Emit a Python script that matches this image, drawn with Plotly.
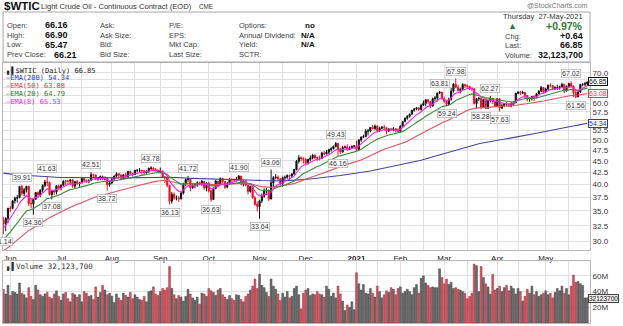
import math
import pandas as pd
import plotly.graph_objects as go

W, H = 623, 326

# ---------------- data ----------------
HOLIDAYS = ["2020-07-03", "2020-09-07", "2020-11-26", "2020-12-25",
            "2021-01-01", "2021-01-18", "2021-02-15", "2021-04-02"]
DATES = pd.bdate_range("2020-05-27", "2021-05-27", freq="C", holidays=HOLIDAYS)

FIRST_OPEN = 33.30
LAST_OPEN = 66.16

CLOSE = [
    32.81, 33.71, 35.49,
    35.44, 36.81, 37.29, 37.41, 39.55, 38.19, 38.94, 39.60, 36.34, 36.26, 37.12, 38.38, 37.96, 38.84, 39.75, 40.46, 40.37, 38.01, 38.72, 38.49, 39.70, 39.27,
    39.82, 40.65, 40.63, 40.62, 40.90, 39.62, 40.55, 40.10, 40.29, 41.20, 40.75, 40.59, 40.81, 41.96, 41.90, 41.07, 41.29, 41.60, 41.04, 41.27, 39.92, 40.27,
    41.01, 41.70, 42.19, 41.95, 41.22, 41.94, 41.61, 42.67, 42.24, 42.01, 42.89, 42.89, 42.93, 42.82, 42.34, 42.62, 43.35, 43.39, 43.04, 42.97, 42.61,
    42.76, 41.51, 41.37, 39.77, 36.76, 38.05, 37.30, 37.33, 37.26, 38.28, 40.16, 40.97, 41.11, 39.31, 39.80, 39.93, 40.31, 40.25, 40.60, 39.29, 40.22,
    38.72, 37.05, 39.22, 40.67, 39.95, 41.19, 40.60, 39.43, 40.20, 41.04, 40.96, 40.88, 41.06, 41.70, 40.03, 40.64, 39.85, 38.56, 39.57, 37.39, 36.17, 35.79,
    36.81, 37.66, 38.79, 38.79, 37.14, 40.29, 41.36, 41.45, 41.12, 40.13, 41.34, 41.43, 41.82, 41.74, 42.15, 43.06, 44.91, 45.71, 45.53, 45.34,
    44.55, 45.28, 45.64, 46.26, 45.76, 45.60, 45.52, 46.78, 46.57, 46.99, 47.62, 47.82, 48.36, 49.10, 47.74, 47.02, 48.12, 48.23, 47.62, 48.00, 48.40, 48.52,
    47.62, 49.93, 50.63, 50.83, 52.24, 52.25, 53.21, 52.91, 53.57, 52.36, 52.98, 53.24, 53.13, 52.27, 52.77, 52.61, 52.85, 52.34, 52.20,
    53.55, 54.76, 55.69, 56.23, 56.85, 57.97, 58.36, 58.68, 58.24, 59.47, 60.05, 61.14, 60.52, 59.24, 61.49, 61.67, 63.22, 63.53, 61.50,
    60.64, 59.75, 61.28, 63.83, 66.09, 65.05, 64.01, 64.44, 66.02, 65.61, 65.39, 64.80, 64.60, 60.00, 61.42, 61.55, 58.76, 61.18, 58.56, 60.97, 61.56, 60.55, 59.16,
    61.45, 58.65, 59.33, 59.77, 59.60, 59.32, 59.70, 60.18, 63.15, 63.46, 63.13, 63.38, 62.44, 61.35, 61.43, 62.14, 61.91, 62.94, 63.86, 65.01, 63.58,
    64.49, 65.69, 65.63, 64.71, 64.90, 64.92, 65.28, 66.08, 63.82, 65.37, 66.27, 65.49, 63.36, 62.05, 63.58, 66.05, 66.07, 66.21, 66.85,
]
HIGH = [
    34.0, 33.9, 35.5,
    35.9, 36.9, 37.6, 37.9, 39.6, 39.91, 39.3, 39.6, 39.7, 37.3, 37.2, 38.5, 38.6, 39.0, 40.0, 40.9, 41.63, 40.6, 38.9, 39.0, 39.8, 39.9,
    40.0, 40.8, 40.9, 40.9, 41.1, 41.0, 40.6, 40.9, 40.5, 41.4, 41.3, 41.0, 41.0, 42.51, 42.2, 42.0, 41.5, 41.8, 41.8, 41.6, 41.3, 40.5,
    41.3, 41.8, 42.5, 42.3, 42.0, 42.1, 42.4, 42.8, 42.8, 42.3, 43.0, 43.2, 43.4, 43.0, 42.9, 42.9, 43.5, 43.78, 43.6, 43.4, 43.1,
    43.5, 42.8, 41.7, 41.6, 39.9, 38.5, 38.4, 37.8, 37.7, 38.6, 40.3, 41.2, 41.72, 41.0, 40.1, 40.2, 40.6, 40.5, 40.9, 40.6, 40.4,
    40.5, 38.9, 39.4, 40.9, 40.5, 41.4, 41.3, 40.6, 40.4, 41.3, 41.2, 41.2, 41.5, 41.90, 41.7, 40.8, 40.8, 39.8, 39.7, 39.4, 37.7, 36.7,
    37.0, 38.2, 39.2, 39.3, 39.0, 43.06, 41.7, 42.1, 41.8, 41.3, 41.6, 41.8, 42.0, 42.0, 42.3, 43.2, 45.2, 46.3, 46.0, 45.8,
    45.6, 45.5, 46.2, 46.6, 46.5, 46.0, 46.2, 47.1, 47.3, 47.5, 47.8, 48.2, 48.6, 49.43, 49.2, 47.9, 48.5, 48.6, 48.9, 48.4, 48.6, 48.6,
    49.8, 50.2, 50.9, 51.3, 52.8, 52.8, 53.3, 53.9, 54.0, 53.8, 53.4, 53.6, 53.9, 53.0, 53.0, 53.1, 53.3, 53.0, 53.0,
    53.8, 54.9, 55.9, 56.6, 57.0, 58.1, 58.6, 58.9, 58.9, 59.8, 60.9, 61.3, 61.2, 60.8, 61.8, 62.3, 63.3, 63.81, 63.6,
    62.1, 60.8, 61.8, 64.9, 66.4, 67.98, 65.9, 64.9, 66.4, 66.0, 66.0, 65.5, 65.0, 64.7, 61.5, 62.0, 61.7, 61.3, 61.6, 61.1, 62.27, 61.7, 61.0,
    61.6, 61.6, 59.9, 60.1, 60.4, 60.1, 60.5, 60.7, 63.3, 63.8, 63.9, 64.0, 63.6, 62.6, 61.8, 62.3, 62.5, 63.2, 64.1, 65.5, 64.8,
    64.9, 66.0, 66.4, 65.8, 65.4, 65.9, 65.6, 66.6, 66.1, 65.6, 66.5, 67.02, 65.6, 64.2, 64.0, 66.2, 66.4, 66.9, 66.90,
]
LOW = [
    31.14, 31.6, 32.9,
    34.8, 35.3, 36.3, 36.5, 37.3, 37.8, 37.7, 38.4, 35.9, 35.5, 34.36, 37.0, 37.3, 37.5, 38.4, 39.4, 39.6, 37.8, 37.08, 37.9, 38.0, 38.8,
    38.8, 39.7, 39.9, 40.0, 39.9, 39.3, 39.2, 39.9, 39.5, 40.2, 40.5, 40.3, 40.2, 40.6, 41.3, 40.9, 40.7, 40.8, 40.8, 40.8, 38.72, 39.5,
    40.0, 40.7, 41.4, 41.5, 40.8, 41.0, 41.4, 41.5, 41.8, 41.6, 41.9, 42.5, 42.5, 42.0, 42.0, 42.2, 42.4, 42.9, 42.8, 42.6, 42.5,
    42.4, 41.4, 40.2, 39.4, 36.13, 36.3, 37.0, 36.9, 36.6, 37.0, 38.0, 39.6, 40.5, 38.6, 39.1, 39.2, 39.5, 39.8, 39.7, 38.9, 38.6,
    38.4, 36.63, 37.0, 39.0, 39.4, 39.8, 40.3, 39.1, 39.2, 39.9, 40.0, 40.4, 40.6, 40.8, 39.9, 39.6, 39.6, 38.0, 38.4, 37.2, 35.9, 34.9,
    33.64, 36.4, 37.4, 37.9, 36.8, 37.5, 39.4, 41.0, 40.8, 39.8, 39.5, 40.8, 41.1, 40.8, 41.3, 41.9, 42.9, 44.4, 44.9, 44.4,
    43.9, 44.1, 44.9, 45.3, 45.4, 45.0, 45.1, 45.4, 46.3, 46.5, 46.6, 47.1, 47.6, 48.1, 46.16, 46.6, 46.9, 47.9, 47.3, 47.5, 47.8, 47.9,
    47.2, 47.5, 49.5, 50.4, 50.6, 51.1, 51.9, 52.6, 52.5, 51.9, 52.0, 52.7, 52.6, 51.4, 52.0, 52.4, 52.2, 51.9, 51.9,
    52.0, 53.4, 54.6, 55.3, 55.9, 56.8, 57.6, 58.0, 57.8, 57.9, 59.3, 59.1, 59.9, 58.6, 59.1, 60.6, 60.6, 62.9, 61.2,
    60.2, 59.24, 59.5, 60.8, 63.4, 64.9, 63.8, 63.1, 64.3, 64.8, 64.6, 64.2, 63.9, 59.7, 58.5, 60.7, 58.28, 58.9, 58.3, 58.5, 60.3, 59.9, 58.9,
    59.0, 57.63, 58.3, 58.9, 59.1, 58.9, 58.8, 59.4, 60.2, 62.9, 62.6, 62.9, 61.6, 60.6, 60.5, 60.9, 60.8, 61.6, 62.9, 63.6, 63.2,
    63.2, 64.3, 65.1, 64.2, 64.2, 64.3, 64.3, 64.8, 63.3, 63.9, 64.8, 65.3, 61.9, 61.56, 61.9, 63.2, 65.4, 65.4, 65.47,
]
VOLUME_M = [
    43, 37, 48,
    35, 40, 39, 37, 51, 38, 36, 32, 45, 34, 30, 48, 42, 36, 34, 37, 39, 33, 31, 37, 41, 34,
    29, 37, 39, 31, 27, 38, 36, 33, 36, 27, 40, 38, 34, 35, 30, 46, 33, 39, 48, 42, 36, 38,
    34, 26, 37, 32, 29, 38, 35, 33, 39, 31, 36, 33, 30, 29, 34, 27, 40, 41, 46, 37, 35,
    40, 44, 42, 45, 72, 44, 36, 31, 35, 33, 28, 34, 43, 37, 32, 29, 33, 24, 38, 37, 34,
    44, 41, 39, 35, 42, 44, 36, 33, 30, 35, 31, 29, 36, 35, 30, 27, 34, 37, 42, 47, 56, 44,
    62, 48, 45, 39, 34, 56, 47, 43, 37, 29, 38, 33, 40, 32, 34, 44, 47, 36, 18, 38,
    42, 44, 35, 37, 36, 40, 37, 36, 33, 47, 43, 34, 38, 32, 47, 37, 28, 16, 23, 20, 27, 17,
    64, 50, 42, 49, 38, 37, 44, 38, 33, 47, 40, 32, 36, 41, 39, 45, 43, 36, 44,
    46, 38, 40, 43, 40, 36, 45, 49, 38, 57, 60, 51, 48, 45, 46, 45, 45, 69, 58,
    50, 56, 49, 52, 44, 45, 43, 42, 40, 38, 31, 34, 38, 75, 73, 40, 72, 58, 50, 46, 37, 62, 42,
    44, 47, 40, 45, 48, 41, 47, 44, 37, 44, 40, 28, 34, 43, 38, 47, 36, 40, 34, 36, 38,
    41, 36, 38, 32, 39, 44, 41, 47, 38, 44, 36, 47, 61, 52, 53, 50, 48, 32, 32.1237,
]

EMA_SPANS = [200, 50, 20, 8]
EMA_SEEDS = [42.4, 28.5, 30.0, 32.0]          # values at the left edge
EMA_COLORS = ["#45459c", "#e4505e", "#3a8a3a", "#ff22ee"]
EMA_TEXT_COLORS = ["#2a3cb8", "#e03a50", "#2f7d2f", "#ff22ee"]
EMA_LEGEND = ["EMA(200) 54.34", "EMA(50) 63.08", "EMA(20) 64.79", "EMA(8) 65.53"]

PEAKS = [  # date, value, H/L
    ("2020-05-27", 31.14, "L"), ("2020-06-08", 39.91, "H"), ("2020-06-15", 34.36, "L"),
    ("2020-06-23", 41.63, "H"), ("2020-06-25", 37.08, "L"), ("2020-07-21", 42.51, "H"),
    ("2020-07-30", 38.72, "L"), ("2020-08-26", 43.78, "H"), ("2020-09-08", 36.13, "L"),
    ("2020-09-18", 41.72, "H"), ("2020-10-02", 36.63, "L"), ("2020-10-20", 41.90, "H"),
    ("2020-11-02", 33.64, "L"), ("2020-11-09", 43.06, "H"), ("2020-12-18", 49.43, "H"),
    ("2020-12-21", 46.16, "L"), ("2021-02-25", 63.81, "H"), ("2021-03-02", 59.24, "L"),
    ("2021-03-08", 67.98, "H"), ("2021-03-23", 58.28, "L"), ("2021-03-29", 62.27, "H"),
    ("2021-04-05", 57.63, "L"), ("2021-05-18", 67.02, "H"), ("2021-05-20", 61.56, "L"),
]

MONTH_LABELS = ["Jun", "Jul", "Aug", "Sep", "Oct", "Nov", "Dec", "<b>2021</b>", "Feb", "Mar", "Apr", "May"]
PRICE_TICKS = [30.0, 32.5, 35.0, 37.5, 40.0, 42.5, 45.0, 47.5, 50.0, 52.5, 55.0, 57.5, 60.0, 62.5, 65.0, 67.5, 70.0]
PRICE_TICKS_UNDER_TAGS = [55.0, 62.5, 65.0, 67.5]
VOL_TICKS = [20, 40, 60]

# ---------------- derived ----------------
n = len(DATES)
assert len(CLOSE) == n and len(HIGH) == n and len(LOW) == n and len(VOLUME_M) == n
idx = list(range(n))
OPEN = [FIRST_OPEN] + CLOSE[:-1]
OPEN[-1] = LAST_OPEN
HI = [max(h, o, c) for h, o, c in zip(HIGH, OPEN, CLOSE)]
LO = [min(l, o, c) for l, o, c in zip(LOW, OPEN, CLOSE)]
prev = [OPEN[0]] + CLOSE[:-1]
up = [CLOSE[i] >= prev[i] for i in idx]

month_idx = [i for i in range(1, n) if DATES[i].month != DATES[i - 1].month]
mid_idx = [i for i in range(1, n) if DATES[i].day >= 15 and DATES[i - 1].day < 15]
grid_vals = sorted(month_idx + mid_idx)
label_of = dict(zip(month_idx, MONTH_LABELS))
grid_text = [label_of.get(i, "") for i in grid_vals]

def ema(values, span, seed):
    k = 2.0 / (span + 1)
    out, e = [], seed
    for v in values:
        e = e + k * (v - e)
        out.append(e)
    return out

date_pos = {d.strftime("%Y-%m-%d"): i for i, d in enumerate(DATES)}

# ---------------- figure ----------------
def px(x):
    return x / W

def py(y):
    return 1 - y / H

fig = go.Figure()

for flag, col in [(True, "#111111"), (False, "#ee1122")]:
    sel = [i for i in idx if up[i] == flag]
    fig.add_trace(go.Candlestick(
        x=sel, open=[OPEN[i] for i in sel], high=[HI[i] for i in sel],
        low=[LO[i] for i in sel], close=[CLOSE[i] for i in sel],
        increasing=dict(line=dict(color=col, width=1), fillcolor=col),
        decreasing=dict(line=dict(color=col, width=1), fillcolor=col),
        whiskerwidth=0, xaxis="x", yaxis="y", showlegend=False, hoverinfo="skip"))

for span, seed, c in zip(EMA_SPANS, EMA_SEEDS, EMA_COLORS):
    fig.add_trace(go.Scatter(x=idx, y=ema(CLOSE, span, seed), mode="lines",
                             line=dict(color=c, width=1.1), xaxis="x", yaxis="y",
                             showlegend=False, hoverinfo="skip"))

vcol = ["#6c6c6c" if u else "#d65461" for u in up]
vline = ["#3c3c3c" if u else "#9c2f3a" for u in up]
fig.add_trace(go.Bar(x=idx, y=VOLUME_M, marker=dict(color=vcol, line=dict(color=vline, width=0.5)),
                     width=0.8, xaxis="x2", yaxis="y2", showlegend=False, hoverinfo="skip"))

XL, XR = 3, 590
PT, PB = 63, 250
VT, VB = 261, 323
x_range = [-0.16, n - 1 + 1.17]
y_lo, y_hi = 28.77, 73.5

grid = "#e0e0e0"
border = "#b8b8b8"
fig.update_layout(
    width=W, height=H, margin=dict(l=0, r=0, t=0, b=0),
    paper_bgcolor="white", plot_bgcolor="white",
    xaxis=dict(domain=[px(XL), px(XR)], range=x_range, anchor="y",
               tickmode="array", tickvals=grid_vals, ticktext=grid_text,
               tickfont=dict(family="Liberation Sans", size=8, color="#222"),
               showgrid=True, gridcolor=grid, gridwidth=1, ticks="", ticklen=0,
               showline=True, linecolor=border, mirror=True, zeroline=False,
               rangeslider=dict(visible=False)),
    yaxis=dict(domain=[py(PB), py(PT)], type="log", range=[math.log10(y_lo), math.log10(y_hi)],
               side="right", tickmode="array", tickvals=PRICE_TICKS,
               ticktext=["" if v in PRICE_TICKS_UNDER_TAGS else f"{v:.1f}" for v in PRICE_TICKS],
               tickfont=dict(family="Liberation Sans", size=8, color="#333"),
               showgrid=True, gridcolor=grid, showline=True, linecolor=border, mirror=True,
               zeroline=False, ticks=""),
    xaxis2=dict(domain=[px(XL), px(XR)], range=x_range, anchor="y2", matches="x",
                tickmode="array", tickvals=grid_vals, showticklabels=False,
                showgrid=True, gridcolor=grid, showline=True, linecolor=border, mirror=True,
                zeroline=False, ticks=""),
    yaxis2=dict(domain=[py(VB), py(VT)], range=[0, 79], side="right",
                tickmode="array", tickvals=VOL_TICKS, ticktext=[f"{v}M" for v in VOL_TICKS],
                tickfont=dict(family="Liberation Sans", size=8, color="#333"),
                showgrid=True, gridcolor=grid, showline=True, linecolor=border, mirror=True,
                zeroline=False, ticks=""),
)

ann = []
def txt(x, y, s, size=7.5, color="#444", xanchor="left", family="Liberation Sans", **kw):
    ann.append(dict(x=px(x), y=py(y), xref="paper", yref="paper", text=s, showarrow=False,
                    xanchor=xanchor, yanchor="middle",
                    font=dict(family=family, size=size, color=color), **kw))

# title row
txt(2, 6, "<b>$WTIC</b>", size=11.5, color="#111")
txt(39, 6.5, "Light Crude Oil - Continuous Contract (EOD)", size=7.6, color="#333")
txt(197, 6.5, "CME", size=6.3, color="#333")
txt(590, 5, "@StockCharts.com", size=7, color="#777", xanchor="right")

fig.add_shape(type="rect", xref="paper", yref="paper", x0=px(3), x1=px(590), y0=py(62), y1=py(12),
              line=dict(color="#a8a8a8", width=1))

rows = [25.5, 35, 44.5, 54.5]
labels1 = ["Open:", "High:", "Low:", "Prev Close:"]
values1 = ["66.16", "66.90", "65.47", "66.21"]
vx1 = [43, 43, 43, 52]
for y, l, v, vx in zip(rows, labels1, values1, vx1):
    txt(5, y, l, size=7.5, color="#444")
    txt(vx, y, f"<b>{v}</b>", size=9, color="#111")
for y, l in zip(rows, ["Ask:", "Ask Size:", "Bid:", "Bid Size:"]):
    txt(98, y, l, size=7.5, color="#444")
for y, l in zip(rows, ["P/E:", "EPS:", "Mkt Cap:", "Last Size:"]):
    txt(167, y, l, size=7.5, color="#444")
for y, l, v in zip(rows, ["Options:", "Annual Dividend:", "Yield:", "SCTR:"], ["no", "N/A", "N/A", ""]):
    txt(237, y, l, size=7.5, color="#444")
    if v:
        txt(317, y, f"<b>{v}</b>", size=8, color="#111", xanchor="right")

txt(585, 16, "Thursday  27-May-2021", size=7.5, color="#333", xanchor="right")
txt(512, 26, "▲", size=9, color="#2e7d32", xanchor="center")
txt(585, 26, "<b>+0.97%</b>", size=10.5, color="#2e7d32", xanchor="right")
for y, l, v in zip([36, 45.5, 55], ["Chg:", "Last:", "Volume:"], ["+0.64", "66.85", "32,123,700"]):
    txt(503, y, l, size=7.5, color="#444")
    txt(585, y, f"<b>{v}</b>", size=9, color="#111", xanchor="right")

# price legend
mono = "DejaVu Sans Mono"
txt(4, 70, "▖▌$WTIC (Daily) 66.85", size=7, color="#222", family=mono)
for k, (s, c) in enumerate(zip(EMA_LEGEND, EMA_TEXT_COLORS)):
    txt(4, 78 + 8 * k, "—" + s, size=7, color=c, family=mono)

# volume legend
txt(4, 266, "▖▌Volume 32,123,700", size=7.5, color="#333", family=mono)

# peak / trough labels
for d, v, kind in PEAKS:
    i = date_pos[d]
    ann.append(dict(x=i, y=math.log10(v), xref="x", yref="y", text=f"{v:.2f}", showarrow=False,
                    xanchor="center", yanchor="bottom" if kind == "H" else "top",
                    yshift=3 if kind == "H" else -3,
                    font=dict(family="Liberation Sans", size=7, color="#333"),
                    bgcolor="white", bordercolor="#a0a0a0", borderwidth=0.6, borderpad=0.5))

# last value tags on the price axis
tags = [(CLOSE[-1], "#111", "66.85"), (63.08, "#e03a50", "63.08"), (54.34, "#2a3cb8", "54.34")]
for v, c, s in tags:
    ann.append(dict(x=px(588), y=math.log10(v), xref="paper", yref="y", text=s, showarrow=False,
                    xanchor="left", yanchor="middle",
                    font=dict(family="Liberation Sans", size=7, color=c),
                    bgcolor="white", bordercolor=c, borderwidth=1, borderpad=0))
ann.append(dict(x=px(588), y=VOLUME_M[-1], xref="paper", yref="y2", text="32123700", showarrow=False,
                xanchor="left", yanchor="middle", yshift=-1,
                font=dict(family="Liberation Sans", size=6.5, color="#222"),
                bgcolor="#e8e8e8", bordercolor="#444", borderwidth=1, borderpad=0))

fig.update_layout(annotations=ann)
fig.write_html("out.html")
